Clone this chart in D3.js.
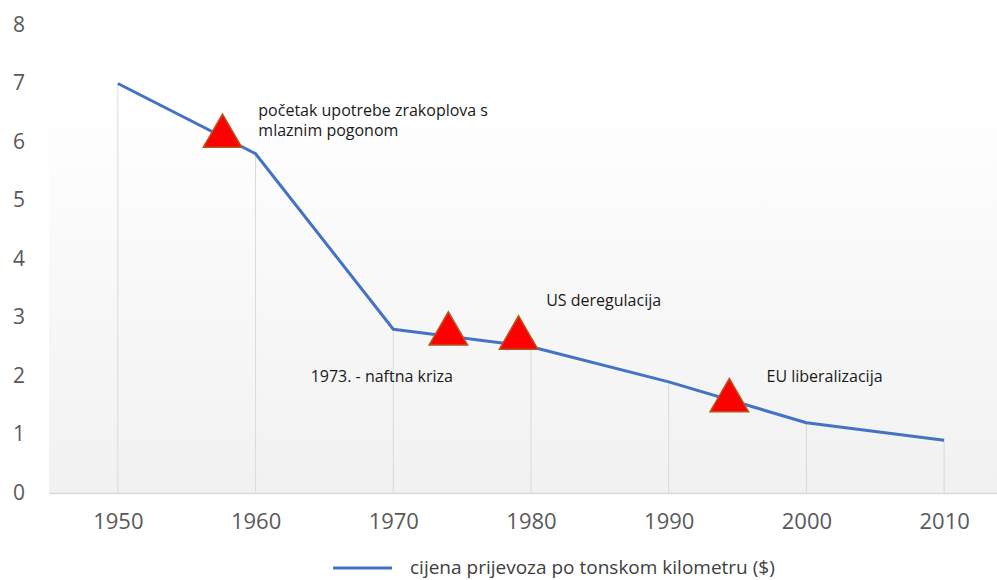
<!DOCTYPE html>
<html>
<head>
<meta charset="utf-8">
<script src="https://cdn.jsdelivr.net/npm/d3@7"></script>
<style>
  body { margin: 0; background: #fff; }
  svg { display: block; font-family: "Open Sans", sans-serif; }
</style>
</head>
<body>
<div id="chart"></div>
<script>
// Data
const years = [1950, 1960, 1970, 1980, 1990, 2000, 2010];
const prices = [7.0, 5.8, 2.8, 2.5, 1.9, 1.2, 0.9];
const yTicks = [0, 1, 2, 3, 4, 5, 6, 7, 8];
// Event markers (year, value) and their labels
const eventYears = [1957.6, 1974, 1979.1, 1994.4];
const eventValues = [6.15, 2.77, 2.7, 1.63];
const eventLabels = [
    ['početak upotrebe zrakoplova s', 'mlaznim pogonom'],
    ['1973. - naftna kriza'],
    ['US deregulacija'],
    ['EU liberalizacija']
];
// label anchor positions in data units (year, value)
const labelYears = [1960.2, 1964.0, 1981.1, 1997.1];
const labelValues = [6.44, 1.89, 3.19, 1.89];
const legendLabel = 'cijena prijevoza po tonskom kilometru ($)';

const W = 997, H = 580;
const svg = d3.select('#chart').append('svg').attr('width', W).attr('height', H);

const x = d3.scaleLinear().domain([1945, 2015]).range([49, 1013]);
const y = d3.scaleLinear().domain([0, 8]).range([493, 25]);

// Plot background gradient
const defs = svg.append('defs');
const grad = defs.append('linearGradient').attr('id', 'bg')
    .attr('x1', 0).attr('y1', 0).attr('x2', 0).attr('y2', 1);
grad.append('stop').attr('offset', '0%').attr('stop-color', '#ffffff');
grad.append('stop').attr('offset', '15%').attr('stop-color', '#ffffff');
grad.append('stop').attr('offset', '100%').attr('stop-color', '#f1f1f1');
svg.append('rect')
    .attr('x', x(1945)).attr('y', y(8))
    .attr('width', x(2015) - x(1945)).attr('height', y(0) - y(8))
    .attr('fill', 'url(#bg)');

// Drop lines
svg.append('g').selectAll('line').data(years).join('line')
    .attr('x1', (d) => x(d)).attr('x2', (d) => x(d))
    .attr('y1', (d, i) => y(prices[i])).attr('y2', y(0))
    .attr('stroke', '#d9d9d9').attr('stroke-width', 1);

// X axis
const xAxis = svg.append('g')
    .attr('transform', `translate(0, ${y(0)})`)
    .call(d3.axisBottom(x).tickValues(years).tickFormat(d3.format('d')).tickSize(0).tickPadding(20));
xAxis.select('.domain').attr('stroke', '#d9d9d9').attr('stroke-width', 1.5);
xAxis.selectAll('text')
    .attr('fill', '#595959')
    .style('font-family', '"Open Sans", sans-serif')
    .style('font-size', '22px');

// Y axis
const yAxis = svg.append('g')
    .attr('transform', 'translate(25, 0)')
    .call(d3.axisLeft(y).tickValues(yTicks).tickSize(0).tickPadding(0));
yAxis.select('.domain').remove();
yAxis.selectAll('text')
    .attr('fill', '#595959')
    .attr('dy', '0.3em')
    .style('font-family', '"Open Sans", sans-serif')
    .style('font-size', '21px');

// Price line
const line = d3.line().x((d, i) => x(years[i])).y((d) => y(d));
svg.append('path').datum(prices)
    .attr('d', line)
    .attr('fill', 'none')
    .attr('stroke', '#4472c4')
    .attr('stroke-width', 3)
    .attr('stroke-linejoin', 'round');

// Triangles
const tri = d3.symbol().type(d3.symbolTriangle).size(640);
svg.append('g').selectAll('path').data(eventYears).join('path')
    .attr('d', tri)
    .attr('transform', (d, i) => `translate(${x(d)}, ${y(eventValues[i]) + 3})`)
    .attr('fill', '#ff0000')
    .attr('stroke', '#b5561d')
    .attr('stroke-width', 1.5);

// Labels
const lbl = svg.append('g').selectAll('text').data(eventLabels).join('text')
    .attr('x', (d, i) => x(labelYears[i]))
    .attr('y', (d, i) => y(labelValues[i]))
    .attr('fill', '#1a1a1a')
    .style('font-size', '16px');
lbl.selectAll('tspan').data((d) => d).join('tspan')
    .attr('x', function () { return this.parentNode.getAttribute('x'); })
    .attr('dy', (d, i) => (i === 0 ? 0 : 20))
    .text((d) => d);

// Legend
svg.append('line')
    .attr('x1', 333).attr('x2', 392).attr('y1', 568).attr('y2', 568)
    .attr('stroke', '#4472c4').attr('stroke-width', 3);
svg.append('text')
    .attr('x', 410).attr('y', 574)
    .attr('fill', '#404040')
    .style('font-size', '19px')
    .text(legendLabel);
</script>
</body>
</html>
